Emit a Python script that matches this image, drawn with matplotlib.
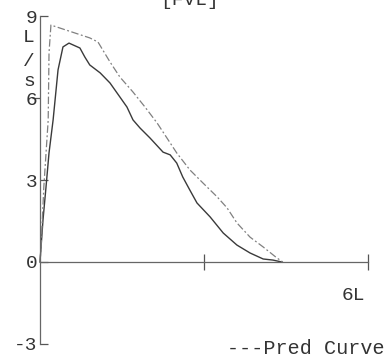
import matplotlib.pyplot as plt
from matplotlib.lines import TICKLEFT

# measured flow-volume curve (volume L, flow L/s)
meas_vol = [0.0, 0.055, 0.11, 0.165, 0.24, 0.33, 0.42, 0.53, 0.73, 0.82, 0.91,
            1.10, 1.28, 1.46, 1.59, 1.70, 1.83, 2.01, 2.25, 2.38, 2.50, 2.61,
            2.74, 2.87, 3.11, 3.35, 3.60, 3.84, 4.08, 4.26, 4.42]
meas_flow = [0.0, 1.54, 2.74, 3.99, 5.20, 7.03, 7.87, 8.01, 7.83, 7.50, 7.21,
             6.92, 6.55, 6.04, 5.67, 5.20, 4.90, 4.54, 4.02, 3.92, 3.62, 3.11,
             2.63, 2.16, 1.65, 1.06, 0.62, 0.33, 0.11, 0.07, 0.0]

# predicted curve
pred_vol = [0.0, 0.02, 0.07, 0.15, 0.165, 0.20, 0.91, 1.06, 1.28, 1.46, 1.70,
            1.92, 2.14, 2.50, 2.74, 2.98, 3.24, 3.42, 3.60, 3.84, 4.08, 4.33, 4.44]
pred_flow = [0.0, 0.55, 2.74, 5.20, 7.65, 8.67, 8.20, 8.05, 7.32, 6.77, 6.22,
             5.67, 5.09, 3.99, 3.37, 2.89, 2.38, 1.98, 1.43, 0.91, 0.55, 0.15, 0.0]

y_ticks = [-3, 0, 3, 6, 9]
x_ticks = [3, 6]

plt.rcParams['font.family'] = ['Liberation Mono', 'DejaVu Sans']

fig = plt.figure(figsize=(3.88, 3.58), dpi=100)
ax = fig.add_axes([0, 0, 1, 1])
ax.set_xlim(-0.731, 6.362)
ax.set_ylim(-3.513, 9.587)

ax.plot(meas_vol, meas_flow, color='#3a3a3a', lw=1.0)
ax.plot(pred_vol, pred_flow, color='#808080', lw=0.9, linestyle=(0, (6, 2, 1.5, 2)))

for s in ['top', 'right']:
    ax.spines[s].set_visible(False)
ax.spines['left'].set_position(('data', 0))
ax.spines['bottom'].set_position(('data', 0))
ax.spines['left'].set_bounds(-3, 9)
ax.spines['bottom'].set_bounds(0, 6)
for s in ['left', 'bottom']:
    ax.spines[s].set_color('#666666')
    ax.spines[s].set_linewidth(0.9)

ax.set_yticks(y_ticks)
ax.set_yticklabels([str(v) for v in y_ticks], fontsize=14, color='#333333')
ax.set_xticks(x_ticks)
ax.set_xticklabels([])
ax.tick_params(axis='y', direction='in', length=6, width=0.9, color='#555555', pad=2)
ax.tick_params(axis='x', direction='inout', length=12, width=0.9, color='#555555')
# the tick at 6 points outward in the original
ax.yaxis.get_major_ticks()[3].tick1line.set_marker(TICKLEFT)
ax.patch.set_visible(False)

# unit label stacked beside the y axis
for txt, yv in [('L', 8.23), ('/', 7.35), ('s', 6.62)]:
    ax.text(-0.2, yv, txt, ha='center', va='center', fontsize=14, color='#333333')

ax.text(5.72, -1.21, '6L', ha='center', va='center', fontsize=14, color='#333333')
ax.text(3.42, -3.15, '---Pred Curve', ha='left', va='center', fontsize=14.5, color='#333333')
ax.text(2.74, 9.40, '[FVL]', ha='center', va='baseline', fontsize=14, color='#333333')

fig.savefig('out.png', dpi=100)
